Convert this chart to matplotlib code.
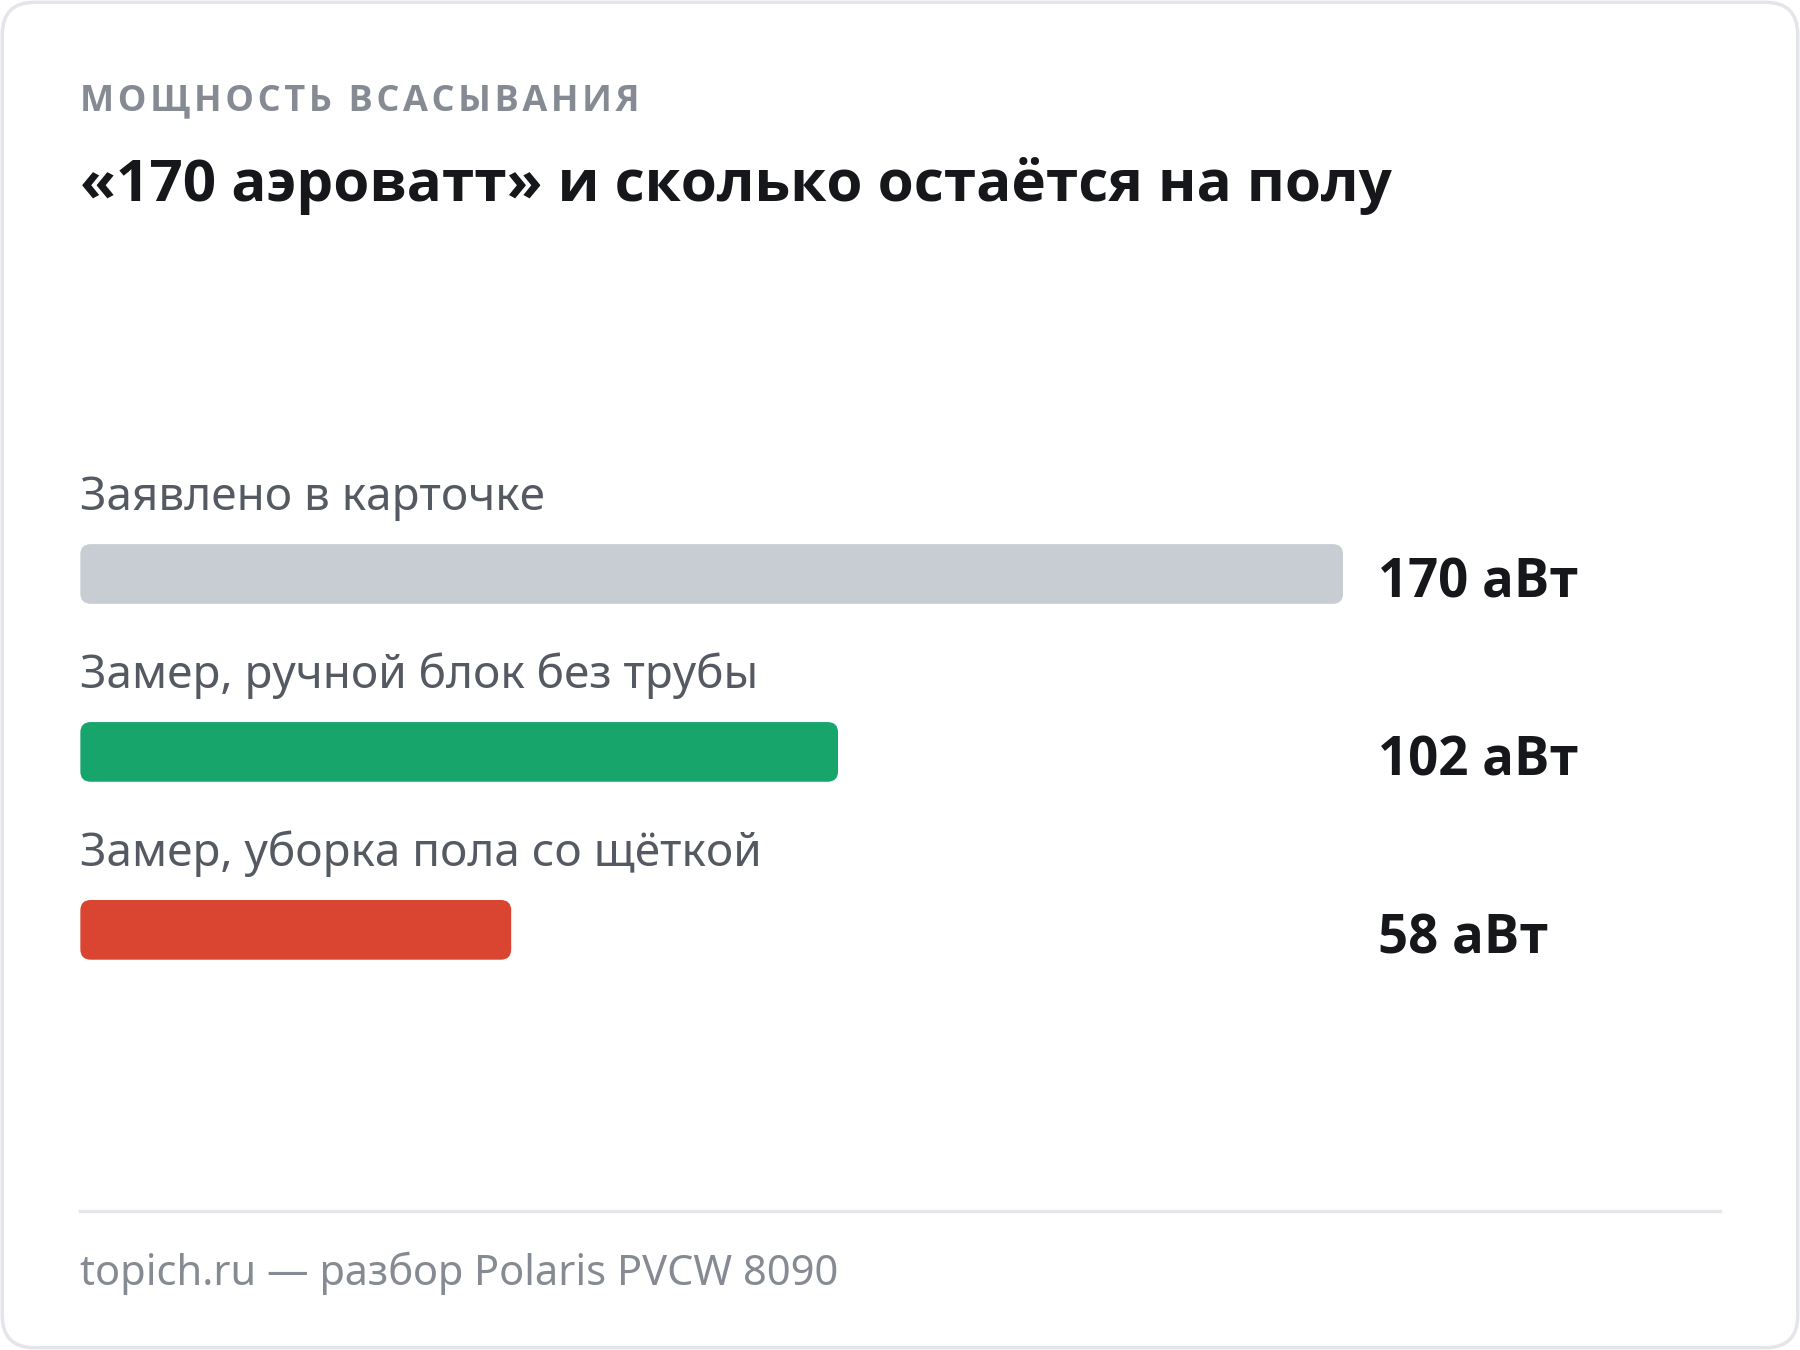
import matplotlib.pyplot as plt
from matplotlib.patches import FancyBboxPatch

plt.rcParams['font.family'] = ['Noto Sans', 'DejaVu Sans']
BOLD = ['Open Sans', 'DejaVu Sans']

labels = ['Заявлено в карточке', 'Замер, ручной блок без трубы', 'Замер, уборка пола со щёткой']
values = [170, 102, 58]
value_text = ['170 аВт', '102 аВт', '58 аВт']
colors = ['#c8ccd3', '#17a56b', '#d94530']
kicker = 'МОЩНОСТЬ ВСАСЫВАНИЯ'
title = '«170 аэроватт» и сколько остаётся на полу'
footer = 'topich.ru — разбор Polaris PVCW 8090'

W, H = 1568, 1176
fig = plt.figure(figsize=(18, 13.5), dpi=100)
bg = fig.add_axes([0, 0, 1, 1])
bg.set_xlim(0, W)
bg.set_ylim(H, 0)
bg.axis('off')

bg.add_patch(FancyBboxPatch((2, 2), W - 4, H - 4, boxstyle='round,pad=0,rounding_size=28',
                            fc='white', ec='#e3e5ea', lw=2.5))

bg.text(70, 88, '\u200a'.join(kicker), fontsize=26, color='#868b93', family=BOLD,
        fontweight='bold', va='center', ha='left')
bg.text(70, 162, title, fontsize=42, fontweight='bold', family=BOLD, color='#15171a',
        va='center', ha='left')

centers = [500, 655, 810]
for lab, c in zip(labels, centers):
    bg.text(70, c - 66, lab, fontsize=33, color='#555a62', va='center', ha='left')
for vt, c in zip(value_text, centers):
    bg.text(1200, c + 8, vt, fontsize=38, fontweight='bold', family=BOLD, color='#15171a',
            va='center', ha='left')

bg.plot([70, 1498], [1055, 1055], color='#e6e7ea', lw=2.5)
bg.text(70, 1109, footer, fontsize=30, color='#868b93', va='center', ha='left')

# bars on their own value scale
ax = fig.add_axes([70 / W, 0, 1100 / W, 1])
ax.set_xlim(0, 170)
ax.set_ylim(H, 0)
ax.axis('off')
ax.patch.set_alpha(0)
bars = ax.barh(centers, values, height=52, color=colors)
px_per_unit = 1100 / 170
for b in bars:
    b.set_visible(False)
    ax.add_patch(FancyBboxPatch((b.get_x(), b.get_y()), b.get_width(), b.get_height(),
                                boxstyle='round,pad=0,rounding_size=%f' % (9 / px_per_unit),
                                mutation_aspect=px_per_unit, fc=b.get_facecolor(), ec='none'))

fig.savefig('out.png', dpi=100)
